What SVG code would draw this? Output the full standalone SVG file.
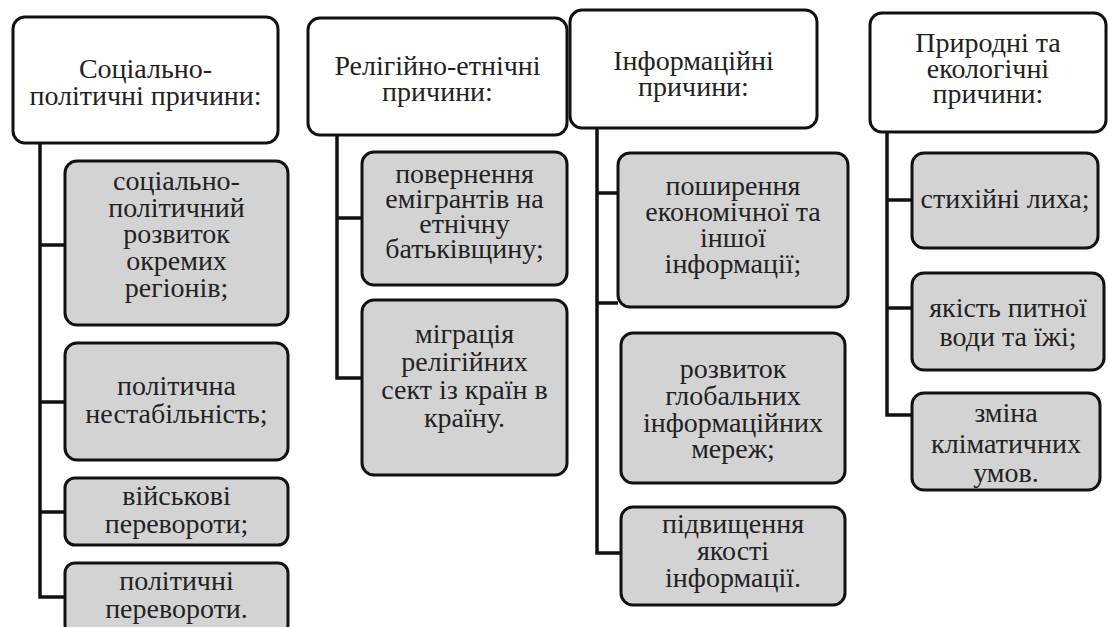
<svg xmlns="http://www.w3.org/2000/svg" width="1108" height="627" viewBox="0 0 1108 627">
<style>
.h{fill:#ffffff;stroke:#111;stroke-width:3}
.g{fill:#d3d3d3;stroke:#111;stroke-width:3}
.c{fill:none;stroke:#111;stroke-width:3.5}
.t{font-family:"Liberation Serif","Times New Roman","DejaVu Serif","Noto Serif",serif;font-size:28px;fill:#222;text-anchor:middle}
</style>
<rect width="1108" height="627" fill="#ffffff"/>
<g id="connectors">
<path class="c" d="M40 143 V597 H65 M40 245 H65 M40 402 H65 M40 512 H65"/>
<path class="c" d="M337 135 V378 H362 M337 218 H362"/>
<path class="c" d="M597 128 V553 H621 M597 193 H618 M597 303 H618"/>
<path class="c" d="M887 132 V415 H912 M887 200 H912 M887 308 H912"/>
</g>
<g class="t">
<g id="h1"><rect class="h" x="13" y="17" width="265" height="126" rx="12"/>
<text x="145.5" y="78">Соціально-</text><text x="145.5" y="105">політичні причини:</text></g>
<g id="n1a"><rect class="g" x="65" y="161" width="223" height="164" rx="12"/>
<text x="176.5" y="190">соціально-</text><text x="176.5" y="217">політичний</text><text x="176.5" y="243">розвиток</text><text x="176.5" y="270">окремих</text><text x="176.5" y="297">регіонів;</text></g>
<g id="n1b"><rect class="g" x="65" y="343" width="223" height="117" rx="12"/>
<text x="176.5" y="395">політична</text><text x="176.5" y="423">нестабільність;</text></g>
<g id="n1c"><rect class="g" x="65" y="478" width="223" height="67" rx="10"/>
<text x="176.5" y="505">військові</text><text x="176.5" y="533">перевороти;</text></g>
<g id="n1d"><rect class="g" x="65" y="563" width="223" height="72" rx="10"/>
<text x="176.5" y="590">політичні</text><text x="176.5" y="618">перевороти.</text></g>

<g id="h2"><rect class="h" x="308" y="18" width="259" height="117" rx="12"/>
<text x="437.5" y="75">Релігійно-етнічні</text><text x="437.5" y="101">причини:</text></g>
<g id="n2a"><rect class="g" x="362" y="152" width="205" height="133" rx="12"/>
<text x="464.5" y="183">повернення</text><text x="464.5" y="208">емігрантів на</text><text x="464.5" y="233">етнічну</text><text x="464.5" y="258">батьківщину;</text></g>
<g id="n2b"><rect class="g" x="362" y="300" width="205" height="175" rx="12"/>
<text x="464.5" y="343">міграція</text><text x="464.5" y="371">релігійних</text><text x="464.5" y="399">сект із країн в</text><text x="464.5" y="427">країну.</text></g>

<g id="h3"><rect class="h" x="570" y="10" width="247" height="118" rx="12"/>
<text x="693.5" y="70">Інформаційні</text><text x="693.5" y="96">причини:</text></g>
<g id="n3a"><rect class="g" x="618" y="153" width="230" height="154" rx="12"/>
<text x="733" y="195">поширення</text><text x="733" y="221">економічної та</text><text x="733" y="247">іншої</text><text x="733" y="273">інформації;</text></g>
<g id="n3b"><rect class="g" x="621" y="333" width="224" height="150" rx="12"/>
<text x="733" y="378">розвиток</text><text x="733" y="405">глобальних</text><text x="733" y="432">інформаційних</text><text x="733" y="458">мереж;</text></g>
<g id="n3c"><rect class="g" x="621" y="507" width="224" height="98" rx="12"/>
<text x="733" y="533">підвищення</text><text x="733" y="560">якості</text><text x="733" y="587">інформації.</text></g>

<g id="h4"><rect class="h" x="870" y="13" width="236" height="119" rx="12"/>
<text x="988" y="52">Природні та</text><text x="988" y="78">екологічні</text><text x="988" y="103">причини:</text></g>
<g id="n4a"><rect class="g" x="912" y="153" width="186" height="95" rx="12"/>
<text x="1005" y="208">стихійні лиха;</text></g>
<g id="n4b"><rect class="g" x="912" y="273" width="192" height="97" rx="12"/>
<text x="1008" y="317">якість питної</text><text x="1008" y="346">води та їжі;</text></g>
<g id="n4c"><rect class="g" x="912" y="393" width="188" height="97" rx="12"/>
<text x="1006" y="422">зміна</text><text x="1006" y="453">кліматичних</text><text x="1006" y="482">умов.</text></g>
</g>
</svg>
